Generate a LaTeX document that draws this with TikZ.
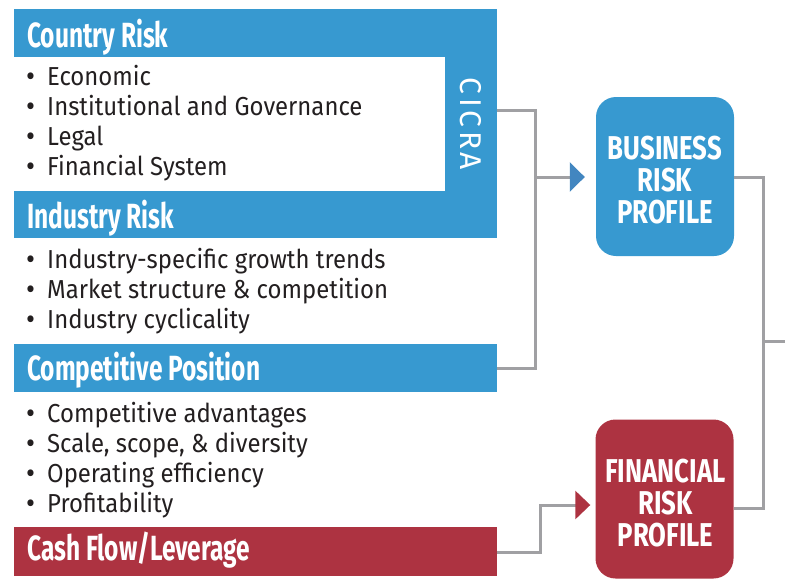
\documentclass[tikz,border=0pt]{standalone}
\usepackage{fontspec}
\setmainfont{Fira Sans}
\newfontfamily\bodyfont[FakeStretch=0.92]{Fira Sans}
\newfontfamily\headfont[FakeStretch=0.70]{Fira Sans Bold}
\newfontfamily\boxfont[FakeStretch=0.78]{Fira Sans Bold}
\newfontfamily\cicrafont[LetterSpace=12]{Fira Sans}
\usetikzlibrary{arrows.meta}
\definecolor{blueC}{RGB}{55,153,208}
\definecolor{arrowB}{RGB}{66,134,192}
\definecolor{redC}{RGB}{173,51,65}
\definecolor{lineG}{RGB}{160,160,163}
\definecolor{txt}{RGB}{35,31,32}
\tikzset{
  bullet/.style={anchor=base west, inner sep=0pt, text=txt, font=\bodyfont\fontsize{26}{30}\selectfont},
  header/.style={anchor=base west, inner sep=0pt, text=white, font=\headfont\fontsize{35}{36}\selectfont},
  band/.style={anchor=north west, inner sep=0pt, minimum width=483pt, minimum height=48pt},
  profile/.style={rounded corners=20pt, inner sep=0pt, minimum width=138pt, minimum height=159pt},
  proftext/.style={inner sep=0pt, text=white, align=center, font=\boxfont\fontsize{33}{32}\selectfont},
  conn/.style={draw=lineG, line width=3pt},
}
\newcommand{\itm}[1]{\makebox[21pt][l]{\raisebox{-1pt}{\fontsize{30}{30}\selectfont•}}#1}
\begin{document}
\begin{tikzpicture}[x=1pt,y=-1pt]
\useasboundingbox (0,0) rectangle (785,579);
% country / industry frame
\fill[blueC] (14,9) rectangle (497,238);
\fill[white] (14,57) rectangle (445,191);
\node[header] (hcountry) at (27,47) {Country Risk};
\node[header] (hindustry) at (27,228) {Industry Risk};
\node[inner sep=0pt, rotate=-90, text=white, font=\cicrafont\fontsize{30}{30}\selectfont] (cicra) at (471,124) {CICRA};
% country bullets
\node[bullet] (c1) at (26,85) {\itm{Economic}};
\node[bullet] (c2) at (26,115) {\itm{Institutional and Governance}};
\node[bullet] (c3) at (26,145) {\itm{Legal}};
\node[bullet] (c4) at (26,175) {\itm{Financial System}};
% industry bullets
\node[bullet] (i1) at (26,268) {\itm{Industry-specific growth trends}};
\node[bullet] (i2) at (26,298) {\itm{Market structure \& competition}};
\node[bullet] (i3) at (26,328) {\itm{Industry cyclicality}};
% competitive
\node[band, fill=blueC] (bcomp) at (14,344) {};
\node[header] (hcomp) at (27,380) {Competitive Position};
\node[bullet] (p1) at (26,422) {\itm{Competitive advantages}};
\node[bullet] (p2) at (26,452) {\itm{Scale, scope, \& diversity}};
\node[bullet] (p3) at (26,482) {\itm{Operating efficiency}};
\node[bullet] (p4) at (26,512) {\itm{Profitability}};
% cash flow
\node[band, fill=redC, minimum height=49pt] (bcash) at (14,527) {};
\node[header] (hcash) at (27,560) {Cash Flow/Leverage};
% profile boxes
\node[profile, fill=blueC] (brp) at (665,176.5) {};
\node[proftext] (brpt) at (665,180) {BUSINESS\\RISK\\PROFILE};
\node[profile, fill=redC] (frp) at (664.5,499) {};
\node[proftext] (frpt) at (665.5,503) {FINANCIAL\\RISK\\PROFILE};
% connector coordinates
\coordinate (ca) at (497,110);
\coordinate (cb) at (535,110);
\coordinate (cc) at (535,368);
\coordinate (cd) at (497,368);
\coordinate (cm) at (535,177);
\coordinate (ra) at (763,177);
\coordinate (rb) at (763,508);
\coordinate (rc) at (785,341);
\coordinate (rm) at (763,341);
\coordinate (fa) at (497,552);
\coordinate (fb) at (540,552);
\coordinate (fc) at (540,505);
% connectors
\draw[conn] (ca) -- (cb) -- (cc) -- (cd);
\draw[conn, -{Triangle[length=15pt,width=29pt,color=arrowB]}, shorten >=11pt] (cm) -- (brp.west |- cm);
\draw[conn] (brp.east |- ra) -- (ra) -- (rb) -- (frp.east |- rb);
\draw[conn] (rm) -- (rc);
\draw[conn, -{Triangle[length=15pt,width=28pt,color=redC]}, shorten >=5pt] (fa) -- (fb) -- (fc) -- (frp.west |- fc);
\end{tikzpicture}
\end{document}
